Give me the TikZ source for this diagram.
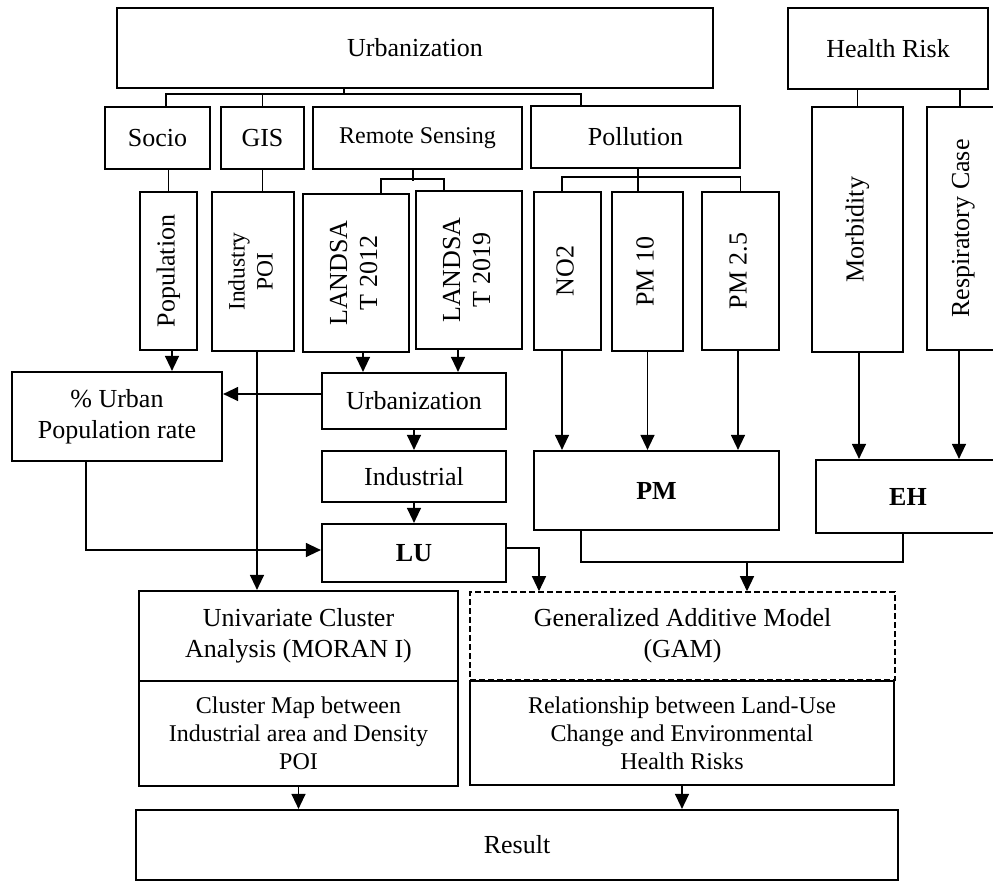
\documentclass[tikz,border=0pt]{standalone}
\usepackage{fontspec}
\setmainfont{Liberation Serif}
\usetikzlibrary{arrows.meta}
\newcommand{\vtxt}[1]{\rotatebox{90}{\begin{tabular}{@{}c@{}}#1\end{tabular}}}
\begin{document}
\begin{tikzpicture}[x=1pt,y=-1pt,
  box/.style={draw, line width=2.2pt, inner sep=0pt, align=center,
    font=\fontsize{26}{31}\selectfont},
  smallbox/.style={box, font=\fontsize{24}{28}\selectfont},
  dashbox/.style={box, line width=1.6pt, dash pattern=on 6pt off 3pt},
  conn/.style={line width=1.3pt},
  arr/.style={conn, -{Triangle[length=15pt,width=14pt]}}]
\useasboundingbox (0,0) rectangle (993,881);
\clip (0,0) rectangle (993,881);

% top level
\node[box, minimum width=596pt, minimum height=80pt] (urb) at (415,48) {Urbanization};
\node[box, minimum width=200pt, minimum height=81pt] (hr) at (888,48.5) {Health Risk};

% second level
\node[box, minimum width=105pt, minimum height=62pt] (socio) at (157.5,138) {Socio};
\node[box, minimum width=83pt, minimum height=62pt] (gis) at (262.5,138) {GIS};
\node[box, minimum width=209pt, minimum height=62pt, font=\fontsize{24}{28}\selectfont] (rs) at (417.5,138) {Remote Sensing};
\node[box, minimum width=209pt, minimum height=62pt] (pol) at (635.5,137) {Pollution};

% vertical boxes
\node[box, minimum width=57pt, minimum height=158pt] (pop) at (168.5,271) {\vtxt{Population}};
\node[box, minimum width=82pt, minimum height=159pt, font=\fontsize{23.5}{28}\selectfont] (ind) at (253,271.5) {\vtxt{Industry\\POI}};
\node[box, minimum width=106pt, minimum height=158pt, font=\fontsize{26}{30}\selectfont] (l12) at (356,273) {\vtxt{LANDSA\\T 2012}};
\node[box, minimum width=106pt, minimum height=158pt, font=\fontsize{26}{30}\selectfont] (l19) at (469,270) {\vtxt{LANDSA\\T 2019}};
\node[box, minimum width=67pt, minimum height=158pt] (no2) at (567.5,271) {\vtxt{NO2}};
\node[box, minimum width=71pt, minimum height=159pt] (pm10) at (647.5,271.5) {\vtxt{PM 10}};
\node[box, minimum width=77pt, minimum height=158pt] (pm25) at (740.5,271) {\vtxt{PM 2.5}};
\node[box, minimum width=91pt, minimum height=245pt] (morb) at (857.5,229.5) {\vtxt{Morbidity}};
\node[box, minimum width=72pt, minimum height=243pt] (resp) at (963,228.5) {\vtxt{Respiratory Case}};

% middle
\node[box, minimum width=210pt, minimum height=89pt] (urbpop) at (117,416.5) {\% Urban\\Population rate};
\node[box, minimum width=184pt, minimum height=56pt] (urbm) at (414,401) {Urbanization};
\node[box, minimum width=184pt, minimum height=51pt] (indm) at (414,476.5) {Industrial};
\node[box, minimum width=184pt, minimum height=58pt, font=\fontsize{26}{31}\selectfont\bfseries] (lu) at (414,553) {LU};
\node[box, minimum width=245pt, minimum height=79pt, font=\fontsize{26}{31}\selectfont\bfseries] (pm) at (656.5,490.5) {PM};
\node[box, minimum width=184pt, minimum height=73pt, font=\fontsize{26}{31}\selectfont\bfseries] (eh) at (908,496.5) {EH};

% bottom
\node[box, minimum width=319pt, minimum height=90pt] (uni) at (298.5,636) {Univariate Cluster\\Analysis (MORAN I)};
\node[smallbox, minimum width=319pt, minimum height=105pt] (clus) at (298.5,733.5) {Cluster Map between\\Industrial area and Density\\POI};
\node[dashbox, minimum width=425pt, minimum height=88pt] (gam) at (682.5,636) {Generalized Additive Model\\(GAM)};
\node[smallbox, minimum width=424pt, minimum height=104pt] (rel) at (682,733) {Relationship between Land-Use\\Change and Environmental\\Health Risks};
\node[box, minimum width=762pt, minimum height=70pt] (res) at (517,845) {Result};

% tree under Urbanization
\coordinate (t1) at (344,95);
\draw[conn] (urb.south -| t1) -- (t1);
\draw[conn] ([xshift=8.5pt]socio.north) -- ++(0,-12) -| ([xshift=-54.5pt]pol.north);
\draw[conn] (gis.north) -- (gis.north |- t1);

% Socio, GIS to their sources
\draw[conn] (socio.south -| pop.north) -- (pop.north);
\draw[conn] (gis.south) -- (gis.south |- ind.north);

% Remote sensing tree
\draw[conn] ([xshift=-4.5pt]rs.south) -- ++(0,11);
\draw[conn] ([xshift=25pt]l12.north) -- ++(0,-14) -| ([xshift=-25pt]l19.north);

% Pollution tree
\draw[conn] ([xshift=2.5pt]pol.south) -- ([xshift=-9.5pt]pm10.north);
\draw[conn] ([xshift=-5.5pt]no2.north) -- ++(0,-14) -| (pm25.north);

% Health risk tree
\draw[conn] (morb.north) -- (morb.north |- hr.south);
\draw[conn] ([xshift=-3pt]resp.north) -- ([xshift=-3pt]resp.north |- hr.south);

% arrows
\draw[arr] ([xshift=3.5pt]pop.south) -- ([xshift=3.5pt]pop.south |- urbpop.north);
\draw[arr] ([xshift=7pt]l12.south) -- ([xshift=7pt]l12.south |- urbm.north);
\draw[arr] ([xshift=-11pt]l19.south) -- ([xshift=-11pt]l19.south |- urbm.north);
\draw[arr] ([yshift=7pt]urbm.west) -- ([yshift=7pt]urbm.west -| urbpop.east);
\draw[arr] (urbm.south) -- (indm.north);
\draw[arr] (indm.south) -- (lu.north);
\draw[arr] ([xshift=-31pt]urbpop.south) |- ([yshift=3pt]lu.west);
\draw[arr] ([xshift=4pt]ind.south) -- ([xshift=4pt]ind.south |- uni.north);
\draw[arr] ([yshift=5pt]lu.east) -| ([xshift=-143.5pt]gam.north);
\draw[arr] ([xshift=-5.5pt]no2.south) -- ([xshift=-5.5pt]no2.south |- pm.north);
\draw[arr] (pm10.south) -- (pm10.south |- pm.north);
\draw[arr] ([xshift=-2.5pt]pm25.south) -- ([xshift=-2.5pt]pm25.south |- pm.north);
\draw[arr] ([xshift=1.5pt]morb.south) -- ([xshift=1.5pt]morb.south |- eh.north);
\draw[arr] ([xshift=-4pt]resp.south) -- ([xshift=-4pt]resp.south |- eh.north);
\draw[conn] ([xshift=-75.5pt]pm.south) -- ++(0,31) -| ([xshift=-5pt]eh.south);
\coordinate (j2) at (747,561);
\draw[arr] (j2) -- (j2 |- gam.north);
\draw[arr] (clus.south) -- (clus.south |- res.north);
\draw[arr] (rel.south) -- (rel.south |- res.north);
\end{tikzpicture}
\end{document}
